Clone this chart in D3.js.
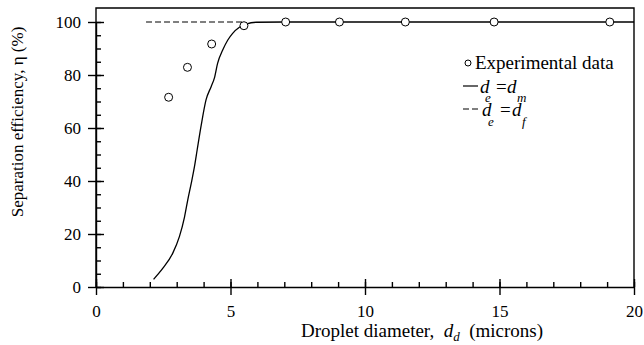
<!DOCTYPE html>
<html>
<head>
<meta charset="utf-8">
<script src="https://cdn.jsdelivr.net/npm/d3@7"></script>
<style>
  body { margin: 0; background: #fff; }
  text { font-family: "Liberation Serif", "Times New Roman", serif; fill: #000; }
</style>
</head>
<body>
<div id="chart"></div>
<script>
// experimental points
const expDiameter = [2.7, 3.4, 4.3, 5.5, 7.05, 9.05, 11.5, 14.8, 19.1];
const expEfficiency = [71.6, 82.9, 91.7, 98.6, 100, 100, 100, 100, 100];

// d_e = d_m model curve
const modelDiameter = [2.14, 2.48, 2.85, 3.1, 3.29, 3.41, 3.54, 3.66, 3.76, 3.91, 4.09, 4.28, 4.4, 4.52, 4.71, 4.9, 5.08, 5.33, 5.58, 5.95, 7, 10, 15, 20];
const modelEfficiency = [2.9, 7, 12.7, 19, 26.4, 32.8, 39.1, 45.4, 51.7, 61, 70.6, 75.6, 78.8, 84.4, 89.4, 93.2, 95.7, 98, 99.2, 99.9, 100, 100, 100, 100];

// d_e = d_f curve
const fiberDiameter = [1.86, 5.5];
const fiberEfficiency = [100, 100];

const xTicks = [0, 5, 10, 15, 20];
const xMinor = d3.range(0, 21, 1);
const yTicks = [0, 20, 40, 60, 80, 100];
const yMinor = d3.range(0, 101, 5);

const width = 644, height = 345;
const margin = { top: 8, right: 10, bottom: 58, left: 96 };

const svg = d3.select('#chart').append('svg')
    .attr('width', width)
    .attr('height', height);

const x = d3.scaleLinear().domain([0, 20]).range([margin.left, width - margin.right]);
const y = d3.scaleLinear().domain([0, 100]).range([287, 22]);

// frame (left, top and right)
svg.append('path')
    .attr('d', `M${x(0)},${y(0)}V${margin.top}H${x(20)}V${y(0)}`)
    .attr('fill', 'none').attr('stroke', '#000').attr('stroke-width', 1.4);

// minor ticks, pointing inward
svg.append('g')
    .attr('transform', `translate(0, ${y(0)})`)
    .call(d3.axisBottom(x).tickValues(xMinor).tickSize(-5).tickFormat(''))
    .call(g => g.select('.domain').remove());
svg.append('g')
    .attr('transform', `translate(${x(0)}, 0)`)
    .call(d3.axisLeft(y).tickValues(yMinor).tickSize(-5).tickFormat(''))
    .call(g => g.select('.domain').remove());

// major axes, ticks crossing the line
const xAxis = svg.append('g')
    .attr('transform', `translate(0, ${y(0)})`)
    .call(d3.axisBottom(x).tickValues(xTicks).tickSize(8).tickSizeOuter(0).tickPadding(10));
xAxis.selectAll('.tick line').attr('y1', -8);

const yAxis = svg.append('g')
    .attr('transform', `translate(${x(0)}, 0)`)
    .call(d3.axisLeft(y).tickValues(yTicks).tickSize(8).tickSizeOuter(0).tickPadding(7));
yAxis.selectAll('.tick line').attr('x1', 8);

svg.selectAll('.tick line, .domain').attr('stroke', '#000').attr('stroke-width', 1.4);
svg.selectAll('.tick text').style('font-size', '17px').style('font-family', '"Liberation Serif", serif');

// curves
const line = d3.line()
    .x(d => x(d[0]))
    .y(d => y(d[1]))
    .curve(d3.curveMonotoneX);

svg.append('path')
    .datum(fiberDiameter.map((d, i) => [d, fiberEfficiency[i]]))
    .attr('d', line)
    .attr('fill', 'none').attr('stroke', '#000').attr('stroke-width', 1.2)
    .attr('stroke-dasharray', '6,3');

svg.append('path')
    .datum(modelDiameter.map((d, i) => [d, modelEfficiency[i]]))
    .attr('d', line)
    .attr('fill', 'none').attr('stroke', '#000').attr('stroke-width', 1.3);

svg.selectAll('.exp')
    .data(expDiameter.map((d, i) => [d, expEfficiency[i]]))
    .enter().append('circle')
    .attr('class', 'exp')
    .attr('cx', d => x(d[0]))
    .attr('cy', d => y(d[1]))
    .attr('r', 4)
    .attr('fill', '#fff').attr('stroke', '#000').attr('stroke-width', 1);

// axis titles
const xTitle = svg.append('text')
    .attr('x', 422).attr('y', 337)
    .attr('text-anchor', 'middle')
    .style('font-size', '19px')
    .style('white-space', 'pre');
xTitle.append('tspan').text('Droplet diameter,  ');
xTitle.append('tspan').style('font-style', 'italic').text('d');
xTitle.append('tspan').style('font-style', 'italic').style('font-size', '13px').attr('dy', 4).text('d');
xTitle.append('tspan').attr('dy', -4).text('  (microns)');

svg.append('text')
    .attr('transform', 'translate(23, 122) rotate(-90)')
    .attr('text-anchor', 'middle')
    .style('font-size', '17px')
    .text('Separation efficiency, η (%)');

// legend
const lg = svg.append('g');
const sym = (txt, px, py, size, italic) => lg.append('text')
    .attr('x', px).attr('y', py)
    .style('font-size', size + 'px')
    .style('font-style', italic ? 'italic' : 'normal')
    .text(txt);

lg.append('circle').attr('cx', 468).attr('cy', 63).attr('r', 3)
    .attr('fill', 'none').attr('stroke', '#000').attr('stroke-width', 1);
sym('Experimental data', 475, 69, 19, false);

lg.append('line').attr('x1', 463).attr('x2', 478).attr('y1', 86).attr('y2', 86)
    .attr('stroke', '#000').attr('stroke-width', 1.2);
sym('d', 480, 93, 19, true);
sym('e', 485, 102, 13, true);
sym('=', 496, 93, 19, false);
sym('d', 507, 93, 19, true);
sym('m', 517, 102, 13, true);

lg.append('line').attr('x1', 463).attr('x2', 480).attr('y1', 109).attr('y2', 109)
    .attr('stroke', '#000').attr('stroke-width', 1.2).attr('stroke-dasharray', '6,3');
sym('d', 482, 116, 19, true);
sym('e', 488, 126, 13, true);
sym('=', 500, 116, 19, false);
sym('d', 512, 116, 19, true);
sym('f', 522, 126, 13, true);
</script>
</body>
</html>
